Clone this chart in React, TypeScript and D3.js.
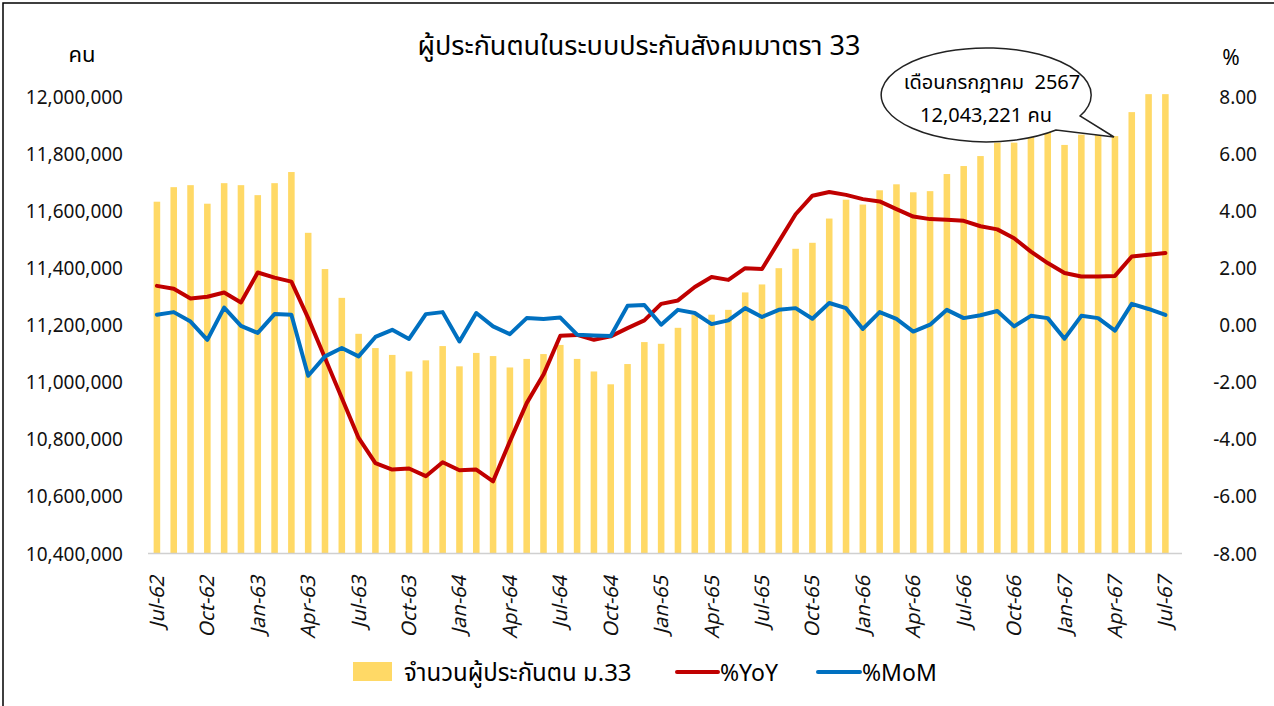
import React, { useEffect, useRef } from "react";
import * as d3 from "d3";

// months Jul-62 .. Jul-67 (Thai Buddhist years, short)
const monthNames = ["Jan", "Feb", "Mar", "Apr", "May", "Jun", "Jul", "Aug", "Sep", "Oct", "Nov", "Dec"];
const months: string[] = [];
for (let i = 0; i < 61; i++) {
    const m = (6 + i) % 12;
    const yy = 62 + Math.floor((6 + i) / 12);
    months.push(`${monthNames[m]}-${yy}`);
}

// insured persons, section 33 (persons)
const insured = [
    11633000, 11684000, 11691000, 11626000, 11698000, 11691000, 11656000, 11698000, 11737000, 11524000,
    11397000, 11296000, 11170000, 11120000, 11096000, 11038000, 11077000, 11127000, 11056000, 11103000,
    11092000, 11052000, 11082000, 11099000, 11131000, 11082000, 11038000, 10993000, 11064000, 11141000,
    11135000, 11191000, 11236000, 11237000, 11254000, 11315000, 11343000, 11400000, 11468000, 11489000,
    11574000, 11640000, 11623000, 11673000, 11694000, 11666000, 11670000, 11730000, 11758000, 11793000,
    11840000, 11840000, 11876000, 11896000, 11832000, 11868000, 11889000, 11863000, 11947000, 12010000,
    12010000,
];

// %YoY
const yoy = [
    1.38, 1.28, 0.94, 1.0, 1.15, 0.8, 1.85, 1.67, 1.53, 0.25,
    -1.15, -2.55, -3.95, -4.83, -5.06, -5.02, -5.29, -4.8, -5.08, -5.06,
    -5.47, -4.07, -2.73, -1.73, -0.37, -0.34, -0.51, -0.39, -0.1, 0.17,
    0.75, 0.87, 1.34, 1.69, 1.59, 2.0, 1.97, 2.93, 3.89, 4.54,
    4.67, 4.57, 4.42, 4.34, 4.07, 3.81, 3.72, 3.7, 3.66, 3.47,
    3.36, 3.05, 2.58, 2.18, 1.83, 1.71, 1.71, 1.73, 2.41, 2.47,
    2.53,
];

// %MoM
const mom = [
    0.37, 0.46, 0.13, -0.51, 0.62, -0.02, -0.27, 0.39, 0.37, -1.77,
    -1.09, -0.8, -1.09, -0.41, -0.16, -0.48, 0.39, 0.46, -0.57, 0.43,
    -0.04, -0.31, 0.25, 0.22, 0.27, -0.33, -0.36, -0.38, 0.68, 0.71,
    0.02, 0.54, 0.43, 0.04, 0.17, 0.6, 0.29, 0.54, 0.6, 0.23,
    0.78, 0.6, -0.13, 0.46, 0.22, -0.22, 0.02, 0.54, 0.25, 0.35,
    0.5, -0.04, 0.33, 0.25, -0.47, 0.33, 0.25, -0.19, 0.75, 0.57,
    0.36,
];

const leftTicks = [10400000, 10600000, 10800000, 11000000, 11200000, 11400000, 11600000, 11800000, 12000000];
const rightTicks = [-8, -6, -4, -2, 0, 2, 4, 6, 8];

const title = "ผู้ประกันตนในระบบประกันสังคมมาตรา 33";
const calloutLines = ["เดือนกรกฎาคม  2567", "12,043,221 คน"];
const legendLabels = ["จำนวนผู้ประกันตน ม.33", "%YoY", "%MoM"];

const barColor = "#FFD966";
const yoyColor = "#C00000";
const momColor = "#0070C0";
const font = "Tahoma, 'Noto Sans Thai', 'Leelawadee UI', 'DejaVu Sans', sans-serif";

const App = () => {
    const svgRef = useRef<SVGSVGElement>(null);

    useEffect(() => {
        const svg = d3.select(svgRef.current);
        svg.selectAll("*").remove();

        const width = 1274;
        const height = 706;
        svg.attr("width", width).attr("height", height).style("font-family", font);

        // frame
        svg.append("rect")
            .attr("x", 3).attr("y", 3)
            .attr("width", 1290).attr("height", 720)
            .attr("fill", "white")
            .attr("stroke", "black")
            .attr("stroke-width", 1.5);

        const x = d3.scaleBand<string>()
            .domain(months)
            .range([148.6, 1173.7])
            .paddingInner(0.61)
            .paddingOuter(0.3);

        const yLeft = d3.scaleLinear().domain([10400000, 12000000]).range([553.5, 97]);
        const yRight = d3.scaleLinear().domain([-8, 8]).range([553.5, 97]);
        const cx = (d: string) => (x(d) as number) + x.bandwidth() / 2;

        // bars
        svg.append("g")
            .selectAll("rect")
            .data(insured)
            .join("rect")
            .attr("x", (d, i) => x(months[i]) as number)
            .attr("y", (d) => yLeft(d))
            .attr("width", x.bandwidth())
            .attr("height", (d) => yLeft(10400000) - yLeft(d))
            .attr("fill", barColor);

        // category axis line
        svg.append("line")
            .attr("x1", 148).attr("x2", 1182)
            .attr("y1", yLeft(10400000)).attr("y2", yLeft(10400000))
            .attr("stroke", "#d0d0d0")
            .attr("stroke-width", 1.5);

        // lines
        const lineGen = d3.line<number>()
            .x((d, i) => cx(months[i]))
            .y((d) => yRight(d));

        svg.append("path")
            .datum(yoy)
            .attr("d", lineGen)
            .attr("fill", "none")
            .attr("stroke", yoyColor)
            .attr("stroke-width", 4)
            .attr("stroke-linejoin", "round")
            .attr("stroke-linecap", "round");

        svg.append("path")
            .datum(mom)
            .attr("d", lineGen)
            .attr("fill", "none")
            .attr("stroke", momColor)
            .attr("stroke-width", 4)
            .attr("stroke-linejoin", "round")
            .attr("stroke-linecap", "round");

        // left axis labels
        svg.append("g")
            .selectAll("text")
            .data(leftTicks)
            .join("text")
            .attr("x", 123)
            .attr("y", (d) => yLeft(d) + 7)
            .attr("text-anchor", "end")
            .style("font-size", "19px")
            .attr("fill", "#111")
            .text((d) => d3.format(",")(d));

        // right axis labels
        svg.append("g")
            .selectAll("text")
            .data(rightTicks)
            .join("text")
            .attr("x", 1257)
            .attr("y", (d) => yRight(d) + 7)
            .attr("text-anchor", "end")
            .style("font-size", "19px")
            .attr("fill", "#111")
            .text((d) => d.toFixed(2));

        // axis units
        svg.append("text")
            .attr("x", 82).attr("y", 62)
            .attr("text-anchor", "middle")
            .style("font-size", "22px")
            .text("คน");
        svg.append("text")
            .attr("x", 1231).attr("y", 65)
            .attr("text-anchor", "middle")
            .style("font-size", "21px")
            .text("%");

        // month labels, every third month
        svg.append("g")
            .selectAll("text")
            .data(months.filter((d, i) => i % 3 === 0))
            .join("text")
            .attr("transform", (d) => `translate(${cx(d) + 7}, 576) rotate(-90)`)
            .attr("text-anchor", "end")
            .style("font-size", "20px")
            .style("font-style", "italic")
            .attr("fill", "#111")
            .text((d) => d);

        // title
        svg.append("text")
            .attr("x", 639).attr("y", 55)
            .attr("text-anchor", "middle")
            .style("font-size", "27px")
            .text(title);

        // callout bubble
        const ecx = 988, rx = 105, ry = 47;
        svg.append("path")
            .attr("d", `M 1080 116 A ${rx} ${ry} 0 1 0 1056 130 L 1114 137 Z`)
            .attr("fill", "white")
            .attr("stroke", "#222")
            .attr("stroke-width", 1.5);
        svg.append("text")
            .attr("x", ecx + 4).attr("y", 89)
            .attr("text-anchor", "middle")
            .style("font-size", "20px")
            .style("white-space", "pre")
            .text(calloutLines[0]);
        svg.append("text")
            .attr("x", ecx - 2).attr("y", 122)
            .attr("text-anchor", "middle")
            .style("font-size", "20px")
            .text(calloutLines[1]);

        // legend
        const legend = svg.append("g");
        legend.append("rect")
            .attr("x", 353).attr("y", 662)
            .attr("width", 39).attr("height", 19)
            .attr("fill", barColor);
        legend.append("text")
            .attr("x", 404).attr("y", 681)
            .style("font-size", "24px")
            .text(legendLabels[0]);
        legend.append("line")
            .attr("x1", 677).attr("x2", 718).attr("y1", 672).attr("y2", 672)
            .attr("stroke", yoyColor).attr("stroke-width", 4).attr("stroke-linecap", "round");
        legend.append("text")
            .attr("x", 720).attr("y", 681)
            .style("font-size", "23px")
            .text(legendLabels[1]);
        legend.append("line")
            .attr("x1", 818).attr("x2", 860).attr("y1", 672).attr("y2", 672)
            .attr("stroke", momColor).attr("stroke-width", 4).attr("stroke-linecap", "round");
        legend.append("text")
            .attr("x", 862).attr("y", 681)
            .style("font-size", "23px")
            .text(legendLabels[2]);
    }, []);

    return <svg ref={svgRef} style={{ display: "block", position: "absolute", left: 0, top: 0 }}></svg>;
};

export default App;
